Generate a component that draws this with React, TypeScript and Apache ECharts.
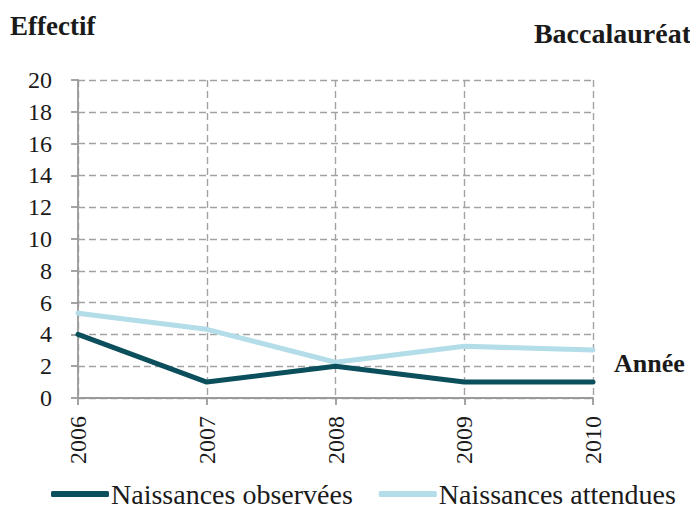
import React, { useEffect, useRef } from "react";
import * as echarts from "echarts";

const years = ["2006", "2007", "2008", "2009", "2010"];
const observed = [4, 1, 2, 1, 1];
const expected = [5.33, 4.32, 2.25, 3.25, 3.02];
const yTitle = "Effectif";
const xTitle = "Année";
const chartTitle = "Baccalauréat";

export default function App() {
  const ref = useRef<HTMLDivElement>(null);
  useEffect(() => {
    if (!ref.current) return;
    const chart = echarts.init(ref.current, null, { renderer: "svg" });
    const font = "Liberation Serif";
    const grid = { type: [7, 4], color: "#a3a3a3", width: 1.4 };
    chart.setOption({
      animation: false,
      textStyle: { fontFamily: font },
      grid: { left: 78, right: 105, top: 80, bottom: 115, containLabel: false },
      graphic: [
        { type: "text", x: 10, y: 12, style: { text: yTitle, font: `bold 27px ${font}`, fill: "#1a1a1a" } },
        { type: "text", x: 691, y: 19, style: { text: chartTitle, font: `bold 28px ${font}`, fill: "#1a1a1a", align: "right" } },
        { type: "text", x: 614, y: 350, style: { text: xTitle, font: `bold 26px ${font}`, fill: "#1a1a1a" } },
      ],
      legend: {
        bottom: 0,
        left: 46,
        itemGap: 26,
        itemWidth: 58,
        itemHeight: 6,
        icon: "roundRect",
        textStyle: { fontFamily: font, fontSize: 28, color: "#1a1a1a", padding: [0, 0, 0, -3] },
        data: ["Naissances observées", "Naissances attendues"],
      },
      xAxis: {
        type: "category",
        data: years,
        boundaryGap: false,
        axisLine: { lineStyle: { color: "#9a9a9a", width: 1.8 } },
        axisTick: { show: true, length: 7, lineStyle: { color: "#9a9a9a", width: 1.8 } },
        axisLabel: { rotate: 90, fontSize: 24, color: "#1a1a1a", fontFamily: font, margin: 18 },
        splitLine: { show: true, lineStyle: grid },
      },
      yAxis: {
        type: "value",
        min: 0,
        max: 20,
        interval: 2,
        axisLine: { show: true, lineStyle: { color: "#9a9a9a", width: 1.8 } },
        axisTick: { show: true, length: 7, lineStyle: { color: "#9a9a9a", width: 1.8 } },
        axisLabel: { fontSize: 24, color: "#1a1a1a", fontFamily: font, margin: 26 },
        splitLine: { show: true, lineStyle: grid },
      },
      series: [
        {
          name: "Naissances observées",
          type: "line",
          data: observed,
          symbol: "none",
          lineStyle: { color: "#0c4f5c", width: 5, cap: "round" },
          itemStyle: { color: "#0c4f5c" },
          z: 3,
        },
        {
          name: "Naissances attendues",
          type: "line",
          data: expected,
          symbol: "none",
          lineStyle: { color: "#b3dde8", width: 5, cap: "round" },
          itemStyle: { color: "#b3dde8" },
          z: 2,
        },
      ],
    });
    return () => chart.dispose();
  }, []);
  return <div ref={ref} style={{ width: 698, height: 513, margin: -8 }} />;
}
